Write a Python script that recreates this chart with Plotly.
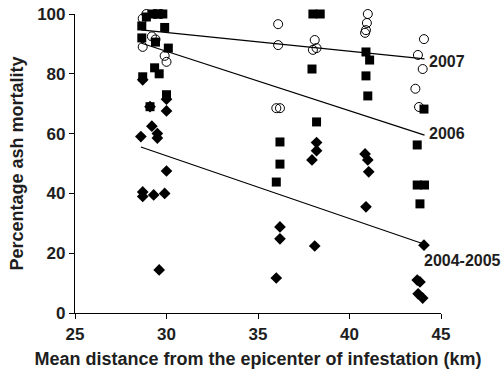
import plotly.graph_objects as go

# 2007 (open circles)
x2007 = [28.9, 29.4, 29.7, 28.7, 29.2, 29.4, 28.7, 29.9, 30.0,
         36.1, 36.1, 36.0, 36.2, 38.1, 38.0, 38.2,
         41.0, 40.95, 40.9, 40.85,
         44.07, 43.74, 44.0, 43.6, 43.8]
y2007 = [100, 100, 100, 98.5, 92.5, 91.5, 89, 86, 84,
         96.6, 89.6, 68.5, 68.5, 91.3, 88, 88.6,
         100, 97, 94.6, 93.7,
         91.6, 86.3, 81.6, 75, 68.9]

# 2006 (filled squares)
x2006 = [28.9, 29.2, 29.5, 29.8, 28.65, 29.9, 28.65, 29.4, 30.1, 28.7, 29.35, 29.6, 30.0, 29.1,
         36.2, 36.2, 36.0, 38.0, 38.4, 37.95, 38.2,
         40.9, 41.1, 40.9, 41.0,
         44.07, 43.7, 43.7, 44.1, 43.85]
y2006 = [99, 100, 100, 100, 96, 95.5, 92, 90.6, 88.6, 79, 82, 80, 73, 69,
         57.2, 49.8, 43.8, 100, 100, 81.6, 63.9,
         87.3, 84.6, 79.3, 72.6,
         68.2, 56.2, 42.8, 42.8, 36.5]

# 2004-2005 (filled diamonds)
x2004 = [28.7, 29.1, 30.0, 30.0, 29.2, 28.6, 29.5, 29.5, 30.0, 28.7, 28.7, 29.3, 29.9, 29.6,
         36.2, 36.2, 36.0, 38.1, 37.95, 38.2, 38.2,
         40.85, 41.0, 41.05, 40.9,
         44.07, 43.7, 43.85, 43.75, 44.0]
y2004 = [78, 69, 71.5, 67.6, 62.5, 59, 60, 58.5, 47.5, 40.5, 39, 39.5, 40, 14.4,
         28.8, 24.8, 11.7, 22.4, 51.2, 54.3, 57,
         53.2, 51.2, 47.2, 35.5,
         22.7, 11, 10.4, 6.4, 5]

# Trend lines (endpoints)
trend_x = [28.6, 44.1]
trend_2007 = [94.7, 85.0]
trend_2006 = [90.3, 59.5]
trend_2004 = [55.5, 23.0]

series_labels = ["2007", "2006", "2004-2005"]
label_x = [44.25, 44.25, 43.95]
label_y = [84.0, 60.0, 17.7]

x_ticks = [25, 30, 35, 40, 45]
y_ticks = [0, 20, 40, 60, 80, 100]

FONT = "Arial, Liberation Sans, Helvetica"
TXT = "#1e1e1e"

fig = go.Figure()

for ty in [trend_2007, trend_2006, trend_2004]:
    fig.add_trace(go.Scatter(x=trend_x, y=ty, mode="lines",
                             line=dict(color="black", width=1.2),
                             showlegend=False, hoverinfo="skip", cliponaxis=False))

fig.add_trace(go.Scatter(x=x2004, y=y2004, mode="markers",
                         marker=dict(symbol="diamond", size=9, color="black",
                                     line=dict(color="black", width=0)),
                         showlegend=False, cliponaxis=False))
fig.add_trace(go.Scatter(x=x2006, y=y2006, mode="markers",
                         marker=dict(symbol="square", size=9, color="black",
                                     line=dict(color="black", width=0)),
                         showlegend=False, cliponaxis=False))
fig.add_trace(go.Scatter(x=x2007, y=y2007, mode="markers",
                         marker=dict(symbol="circle-open", size=9, color="black",
                                     line=dict(color="black", width=1)),
                         showlegend=False, cliponaxis=False))

for lab, lx, ly in zip(series_labels, label_x, label_y):
    fig.add_annotation(x=lx, y=ly, text=lab, showarrow=False,
                       xanchor="left", yanchor="middle",
                       font=dict(family=FONT, size=16, color=TXT, weight="bold"))

fig.update_layout(
    width=502, height=371,
    margin=dict(l=75, r=61, t=14, b=58),
    paper_bgcolor="white", plot_bgcolor="white",
    font=dict(family=FONT, color=TXT),
    xaxis=dict(range=[25, 45], tickvals=x_ticks, showgrid=False, zeroline=False,
               showline=True, linecolor="black", linewidth=1.2, automargin=False,
               ticks="outside", ticklen=5, tickcolor="black",
               tickfont=dict(size=17, family=FONT, weight="bold", color=TXT),
               title=dict(text="Mean distance from the epicenter of infestation (km)",
                          font=dict(size=18, color=TXT, weight="bold", family=FONT),
                          standoff=9)),
    yaxis=dict(range=[0, 100], tickvals=y_ticks, showgrid=False, zeroline=False,
               showline=True, linecolor="black", linewidth=1.2, automargin=False,
               ticks="outside", ticklen=5, tickcolor="black",
               tickfont=dict(size=17, family=FONT, weight="bold", color=TXT),
               title=dict(text="Percentage ash mortality",
                          font=dict(size=18, color=TXT, weight="bold", family=FONT),
                          standoff=8)),
)

fig.write_html("out.html")
